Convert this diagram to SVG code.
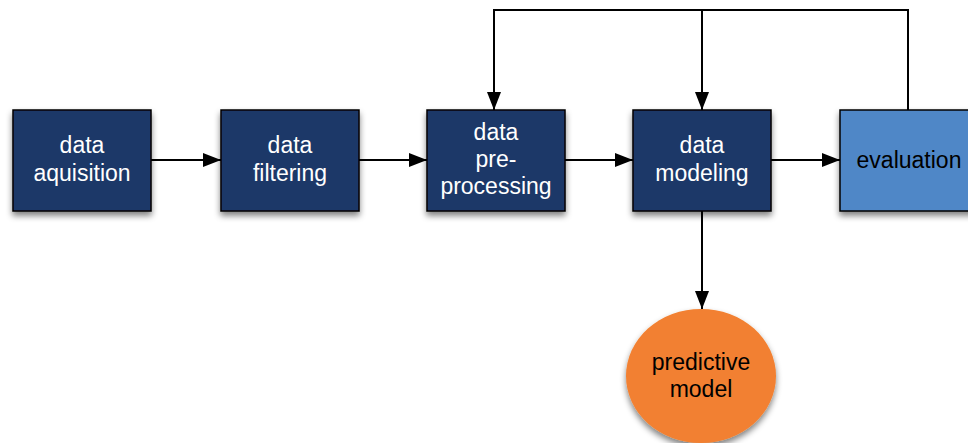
<svg xmlns="http://www.w3.org/2000/svg" width="968" height="443" viewBox="0 0 968 443">
<defs>
<filter id="sh" x="-20%" y="-20%" width="140%" height="150%">
<feGaussianBlur in="SourceAlpha" stdDeviation="3"/>
<feOffset dx="0" dy="4" result="b"/>
<feComponentTransfer><feFuncA type="linear" slope="0.5"/></feComponentTransfer>
<feMerge><feMergeNode/><feMergeNode in="SourceGraphic"/></feMerge>
</filter>
<marker id="ah" markerWidth="18" markerHeight="14" refX="18" refY="7" orient="auto" markerUnits="userSpaceOnUse">
<path d="M0,0 L18,7 L0,14 Z" fill="#000"/>
</marker>
</defs>
<style>
.box{fill:#1f3868;stroke:#000;stroke-width:1.5;filter:url(#sh)}
.eval{fill:#4f87c7;stroke:#000;stroke-width:1.5;filter:url(#sh)}
.ell{fill:#f28030;filter:url(#sh)}
.t{font-family:"Liberation Sans",Arial,sans-serif;font-size:23px;text-anchor:middle;fill:#fff}
.tb{font-family:"Liberation Sans",Arial,sans-serif;font-size:23px;text-anchor:middle;fill:#000}
.c{fill:none;stroke:#000;stroke-width:2}
</style>
<g id="connectors">
<line class="c" x1="151" y1="160" x2="221" y2="160" marker-end="url(#ah)"/>
<line class="c" x1="359" y1="160" x2="427" y2="160" marker-end="url(#ah)"/>
<line class="c" x1="565" y1="160" x2="633" y2="160" marker-end="url(#ah)"/>
<line class="c" x1="771" y1="160" x2="840" y2="160" marker-end="url(#ah)"/>
<polyline class="c" points="908,110 908,10 494,10 494,110" marker-end="url(#ah)"/>
<line class="c" x1="702" y1="10" x2="702" y2="110" marker-end="url(#ah)"/>
<line class="c" x1="702" y1="211" x2="702" y2="309" marker-end="url(#ah)"/>
</g>
<g id="n1"><rect class="box" x="13" y="110" width="138" height="101"/>
<text class="t" x="82" y="153">data</text><text class="t" x="82" y="181">aquisition</text></g>
<g id="n2"><rect class="box" x="221" y="110" width="138" height="101"/>
<text class="t" x="290" y="153">data</text><text class="t" x="290" y="181">filtering</text></g>
<g id="n3"><rect class="box" x="427" y="110" width="138" height="101"/>
<text class="t" x="496" y="140">data</text><text class="t" x="496" y="167">pre-</text><text class="t" x="496" y="194">processing</text></g>
<g id="n4"><rect class="box" x="633" y="110" width="138" height="101"/>
<text class="t" x="702" y="153">data</text><text class="t" x="702" y="181">modeling</text></g>
<g id="n5"><rect class="eval" x="840" y="110" width="138" height="101"/>
<text class="tb" x="909" y="168">evaluation</text></g>
<g id="n6"><ellipse class="ell" cx="701" cy="376" rx="75" ry="67"/>
<text class="tb" x="701" y="370">predictive</text><text class="tb" x="701" y="397">model</text></g>
</svg>
